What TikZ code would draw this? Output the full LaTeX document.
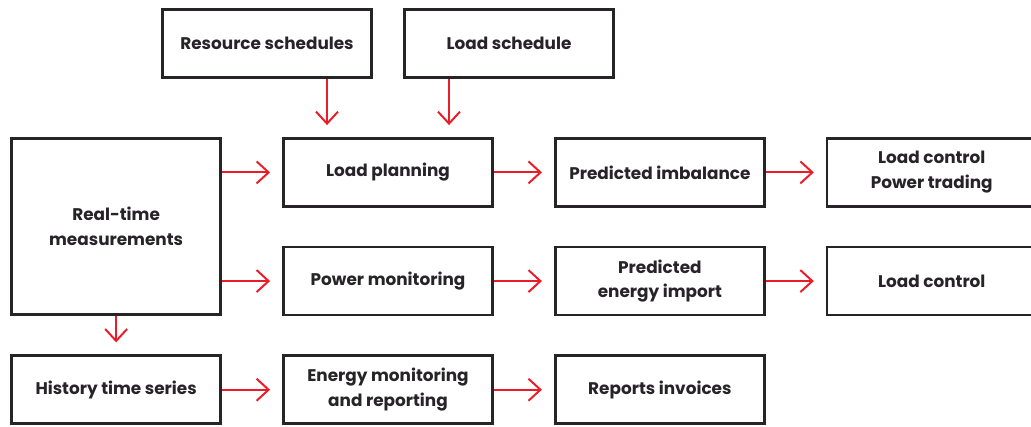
\documentclass[tikz,border=0pt]{standalone}
\usepackage{fontspec}
\setmainfont{Poppins}
\usetikzlibrary{positioning,arrows.meta}

\definecolor{boxline}{RGB}{38,36,38}
\definecolor{abbred}{RGB}{235,28,40}

\begin{document}
\begin{tikzpicture}[
        node distance=0.95cm and 1.5cm,
        block/.style={rectangle,draw=boxline,line width=1.9pt,minimum width=5.23cm,minimum height=1.7cm,
          align=center,text=boxline,font=\bfseries\fontsize{12}{17.7}\selectfont},
        arrow/.style={-{Straight Barb[length=0.3cm,width=0.55cm]},line width=1.4pt,abbred,shorten >=0.3cm},
      ]
      \clip (0,0) rectangle (25.775,-10.65);
      \node[block] (lp) at (9.7,-4.31) {Load planning};
      \node[block,above=1.45cm of lp,xshift=-3.025cm] (rs) {Resource schedules};
      \node[block,above=1.45cm of lp,xshift=3.025cm] (ls) {Load schedule};
      \node[block,right=of lp] (pi) {Predicted imbalance};
      \node[block,right=of pi] (lcpt) {Load control\\Power trading};
      \node[block,below=of lp] (pm) {Power monitoring};
      \node[block,right=of pm] (pei) {Predicted\\energy import};
      \node[block,right=of pei] (lc) {Load control};
      \node[block,minimum height=4.41cm,below left=0cm and 1.5cm of lp.north west] (rt) {Real-time\\measurements};
      \node[block,below=of pm] (emr) {Energy monitoring\\and reporting};
      \node[block,right=of emr] (ri) {Reports invoices};
      \node[block,left=of emr] (hts) {History time series};

      \coordinate (lpin1) at ([xshift=-1.525cm]lp.north);
      \coordinate (lpin2) at ([xshift=1.525cm]lp.north);
      \draw[arrow] (lpin1 |- rs.south) -- (lpin1);
      \draw[arrow] (lpin2 |- ls.south) -- (lpin2);
      \draw[arrow] (rt.east |- lp) -- (lp);
      \draw[arrow] (rt.east |- pm) -- (pm);
      \draw[arrow] (rt) -- (hts);
      \draw[arrow] (lp) -- (pi);
      \draw[arrow] (pi) -- (lcpt);
      \draw[arrow] (pm) -- (pei);
      \draw[arrow] (pei) -- (lc);
      \draw[arrow] (hts) -- (emr);
      \draw[arrow] (emr) -- (ri);
    \end{tikzpicture}
\end{document}
